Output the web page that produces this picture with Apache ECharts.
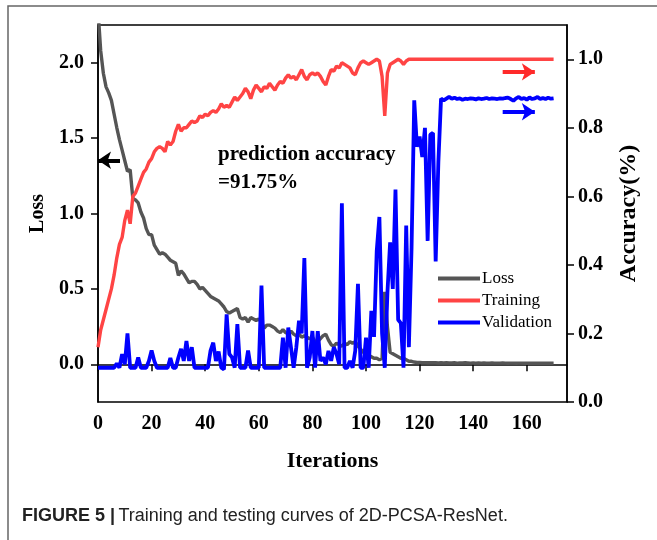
<!DOCTYPE html>
<html>
<head>
<meta charset="utf-8">
<title>Training and testing curves</title>
<script src="https://cdn.jsdelivr.net/npm/echarts@6.0.0/dist/echarts.min.js"></script>
<style>
    html, body { margin: 0; padding: 0; background: #fff; }
    #chart { width: 657px; height: 540px; }
</style>
</head>
<body>
<div id="chart"></div>
<script>
// 数据：迭代 0..170
var loss = [
    2.35, 2.08, 1.93, 1.84, 1.80, 1.75, 1.66, 1.57, 1.49, 1.42,
    1.35, 1.28, 1.29, 1.10, 1.09, 1.07, 1.01, 0.97, 0.90, 0.86,
    0.86, 0.79, 0.76, 0.73, 0.74, 0.73, 0.71, 0.69, 0.68, 0.67,
    0.59, 0.62, 0.60, 0.57, 0.54, 0.55, 0.55, 0.53, 0.50, 0.51,
    0.49, 0.47, 0.45, 0.44, 0.43, 0.42, 0.40, 0.38, 0.35, 0.34,
    0.35, 0.36, 0.37, 0.31, 0.30, 0.31, 0.28, 0.31, 0.30, 0.29,
    0.30, 0.28, 0.24, 0.26, 0.26, 0.25, 0.24, 0.22, 0.21, 0.23,
    0.21, 0.20, 0.22, 0.20, 0.19, 0.20, 0.18, 0.19, 0.18, 0.17,
    0.18, 0.15, 0.15, 0.17, 0.19, 0.20, 0.16, 0.13, 0.12, 0.14,
    0.13, 0.12, 0.14, 0.13, 0.15, 0.14, 0.15, 0.12, 0.10, 0.08,
    0.06, 0.06, 0.05, 0.04, 0.04, 0.03, 0.04, 0.48, 0.25, 0.08,
    0.07, 0.06, 0.05, 0.04, 0.04, 0.03, 0.02, 0.02, 0.015, 0.012,
    0.012, 0.011, 0.011, 0.010, 0.011, 0.010, 0.010, 0.009, 0.010, 0.009,
    0.010, 0.009, 0.009, 0.010, 0.008, 0.009, 0.009, 0.010, 0.009, 0.008,
    0.009, 0.008, 0.009, 0.008, 0.009, 0.008, 0.008, 0.009, 0.008, 0.008,
    0.008, 0.009, 0.008, 0.007, 0.008, 0.008, 0.007, 0.008, 0.008, 0.007,
    0.008, 0.007, 0.008, 0.007, 0.007, 0.008, 0.007, 0.007, 0.008, 0.007,
    0.007
];

var training = [
    0.16, 0.21, 0.24, 0.27, 0.30, 0.33, 0.37, 0.42, 0.46, 0.48,
    0.53, 0.56, 0.52, 0.60, 0.61, 0.63, 0.65, 0.67, 0.68, 0.70,
    0.71, 0.73, 0.74, 0.745, 0.74, 0.73, 0.76, 0.75, 0.76, 0.79,
    0.81, 0.79, 0.80, 0.80, 0.81, 0.82, 0.815, 0.82, 0.835, 0.83,
    0.84, 0.835, 0.845, 0.85, 0.845, 0.855, 0.87, 0.86, 0.865, 0.86,
    0.875, 0.89, 0.88, 0.89, 0.90, 0.915, 0.905, 0.885, 0.91, 0.925,
    0.915, 0.905, 0.92, 0.915, 0.93, 0.92, 0.91, 0.925, 0.935, 0.93,
    0.945, 0.955, 0.945, 0.95, 0.94, 0.955, 0.97, 0.95, 0.94, 0.955,
    0.96, 0.955, 0.96, 0.95, 0.935, 0.925, 0.95, 0.97, 0.965, 0.98,
    0.975, 0.99, 0.985, 0.98, 0.975, 0.96, 0.955, 0.975, 0.99, 0.995,
    0.99, 0.985, 0.99, 0.995, 1.0, 0.995, 0.95, 0.835, 0.96, 0.985,
    0.99, 0.995, 1.0, 0.995, 0.985, 0.995, 1.0, 1.0, 1.0, 1.0,
    1.0, 1.0, 1.0, 1.0, 1.0, 1.0, 1.0, 1.0, 1.0, 1.0,
    1.0, 1.0, 1.0, 1.0, 1.0, 1.0, 1.0, 1.0, 1.0, 1.0,
    1.0, 1.0, 1.0, 1.0, 1.0, 1.0, 1.0, 1.0, 1.0, 1.0,
    1.0, 1.0, 1.0, 1.0, 1.0, 1.0, 1.0, 1.0, 1.0, 1.0,
    1.0, 1.0, 1.0, 1.0, 1.0, 1.0, 1.0, 1.0, 1.0, 1.0,
    1.0
];

var validation = [
    0.10, 0.10, 0.10, 0.10, 0.10, 0.10, 0.10, 0.112, 0.10, 0.14,
    0.11, 0.20, 0.10, 0.10, 0.10, 0.13, 0.10, 0.10, 0.10, 0.12,
    0.15, 0.12, 0.10, 0.10, 0.10, 0.10, 0.10, 0.128, 0.10, 0.10,
    0.13, 0.155, 0.12, 0.178, 0.12, 0.16, 0.10, 0.10, 0.10, 0.10,
    0.10, 0.10, 0.15, 0.173, 0.12, 0.147, 0.10, 0.095, 0.256, 0.14,
    0.13, 0.10, 0.227, 0.10, 0.10, 0.10, 0.15, 0.10, 0.10, 0.10,
    0.10, 0.34, 0.10, 0.10, 0.10, 0.10, 0.10, 0.10, 0.10, 0.188,
    0.10, 0.217, 0.16, 0.10, 0.16, 0.237, 0.20, 0.42, 0.10, 0.13,
    0.207, 0.10, 0.207, 0.12, 0.13, 0.11, 0.149, 0.12, 0.16, 0.14,
    0.11, 0.58, 0.10, 0.10, 0.12, 0.10, 0.15, 0.345, 0.10, 0.10,
    0.188, 0.10, 0.266, 0.19, 0.44, 0.54, 0.20, 0.10, 0.32, 0.466,
    0.33, 0.62, 0.24, 0.23, 0.10, 0.515, 0.16, 0.45, 0.88, 0.745,
    0.775, 0.715, 0.80, 0.47, 0.78, 0.785, 0.41, 0.70, 0.885, 0.88,
    0.885, 0.89, 0.885, 0.888, 0.884, 0.886, 0.882, 0.885, 0.884, 0.886,
    0.885, 0.883, 0.886, 0.884, 0.885, 0.887, 0.884, 0.886, 0.885, 0.884,
    0.886, 0.885, 0.887, 0.888, 0.884, 0.879, 0.886, 0.89, 0.884, 0.887,
    0.882, 0.889, 0.884, 0.886, 0.89, 0.884, 0.887, 0.884, 0.888, 0.885,
    0.886
];

var seriesNames = ['Loss', 'Training', 'Validation'];
var xTicks = [0, 20, 40, 60, 80, 100, 120, 140, 160];
var lossTicks = [0.0, 0.5, 1.0, 1.5, 2.0];
var accTicks = [0.0, 0.2, 0.4, 0.6, 0.8, 1.0];

// 箭头标注（数据坐标）
var lossArrow = [[8.2, 1.353], [0, 1.353]];
var trainArrow = [[151, 0.963], [163, 0.963]];
var validArrow = [[151, 0.847], [163, 0.847]];

var iterations = loss.map(function (v, i) { return i; });
function pairs(arr) {
    return arr.map(function (v, i) { return [iterations[i], v]; });
}

var serif = '"Liberation Serif", "Times New Roman", serif';
var sans = '"Liberation Sans", Arial, sans-serif';
var tickLabel = { fontFamily: serif, fontWeight: 'bold', fontSize: 20, color: '#000' };

function arrowLine(points, color) {
    return {
        silent: true,
        symbol: ['none', 'arrow'],
        symbolSize: [13, 13],
        label: { show: false },
        lineStyle: { color: color, width: 4, type: 'solid' },
        emphasis: { disabled: true },
        data: [[{ coord: points[0] }, { coord: points[1] }]]
    };
}

var chart = echarts.init(document.getElementById('chart'));

var option = {
    animation: false,
    backgroundColor: '#fff',
    grid: {
        left: 98, right: 90, top: 25, bottom: 138,
        show: true, borderColor: '#000', borderWidth: 1.5
    },
    legend: {
        orient: 'vertical',
        left: 433, top: 265,
        itemWidth: 42, itemHeight: 4, itemGap: 5,
        icon: 'rect',
        data: seriesNames,
        textStyle: { fontFamily: serif, fontSize: 17, color: '#000', padding: [0, 0, 0, -3] }
    },
    xAxis: {
        type: 'value',
        min: 0, max: 175, interval: 20,
        name: 'Iterations',
        nameLocation: 'middle',
        nameGap: 48,
        nameTextStyle: { fontFamily: serif, fontWeight: 'bold', fontSize: 22, color: '#000' },
        axisLine: { lineStyle: { color: '#000', width: 1.5 } },
        axisTick: { length: 7, lineStyle: { color: '#000', width: 1.5 } },
        axisLabel: Object.assign({ margin: 12, showMaxLabel: false,
            formatter: function (v) { return xTicks.indexOf(v) >= 0 ? String(v) : ''; } }, tickLabel),
        splitLine: { show: false }
    },
    yAxis: [{
        type: 'value',
        position: 'left',
        min: -0.25, max: 2.25, splitNumber: 5,
        name: 'Loss',
        nameLocation: 'middle',
        nameRotate: 90,
        nameGap: 50,
        nameTextStyle: { fontFamily: serif, fontWeight: 'bold', fontSize: 20, color: '#000' },
        axisLine: { show: true, lineStyle: { color: '#000', width: 1.5 } },
        axisTick: { show: true, length: 7, lineStyle: { color: '#000', width: 1.5 } },
        axisLabel: Object.assign({ margin: 14, showMinLabel: false, showMaxLabel: false,
            formatter: function (v) { return lossTicks.indexOf(v) >= 0 ? v.toFixed(1) : ''; } }, tickLabel),
        splitLine: { show: false }
    }, {
        type: 'value',
        position: 'right',
        min: 0, max: 1.1, interval: 0.2,
        name: 'Accuracy(%)',
        nameLocation: 'middle',
        nameRotate: 90,
        nameGap: 50,
        nameTextStyle: { fontFamily: serif, fontWeight: 'bold', fontSize: 24, color: '#000' },
        axisLine: { show: true, lineStyle: { color: '#000', width: 1.5 } },
        axisTick: { show: true, length: 7, lineStyle: { color: '#000', width: 1.5 } },
        axisLabel: Object.assign({ margin: 11, showMaxLabel: false,
            formatter: function (v) { return accTicks.indexOf(v) >= 0 ? v.toFixed(1) : ''; } }, tickLabel),
        splitLine: { show: false }
    }],
    series: [{
        name: 'Loss',
        type: 'line',
        yAxisIndex: 0,
        showSymbol: false,
        color: '#555555',
        lineStyle: { color: '#555555', width: 3.4 },
        data: pairs(loss),
        markLine: arrowLine(lossArrow, '#000')
    }, {
        name: 'Training',
        type: 'line',
        yAxisIndex: 1,
        showSymbol: false,
        color: '#ff4444',
        lineStyle: { color: '#ff4444', width: 3.4 },
        data: pairs(training),
        markLine: arrowLine(trainArrow, '#ff2a2a')
    }, {
        name: 'Validation',
        type: 'line',
        yAxisIndex: 1,
        showSymbol: false,
        color: '#0000ff',
        lineStyle: { color: '#0000ff', width: 3.8 },
        data: pairs(validation),
        markLine: arrowLine(validArrow, '#0000ff')
    }],
    graphic: [{
        type: 'polyline',
        silent: true,
        shape: { points: [[8, 545], [8, 6], [660, 6]] },
        style: { stroke: '#666', lineWidth: 1.5, fill: null }
    }, {
        type: 'text',
        left: 218, top: 144,
        style: { text: 'prediction accuracy', font: 'bold 21px ' + serif, fill: '#000' }
    }, {
        type: 'text',
        left: 218, top: 172,
        style: { text: '=91.75%', font: 'bold 21px ' + serif, fill: '#000' }
    }, {
        type: 'text',
        left: 22, top: 507,
        style: {
            text: '{b|FIGURE 5 |} {n|Training and testing curves of 2D-PCSA-ResNet.}',
            rich: {
                b: { fontFamily: sans, fontWeight: 'bold', fontSize: 18, fill: '#222' },
                n: { fontFamily: sans, fontSize: 18, fill: '#222' }
            }
        }
    }]
};

chart.setOption(option);
</script>
</body>
</html>
